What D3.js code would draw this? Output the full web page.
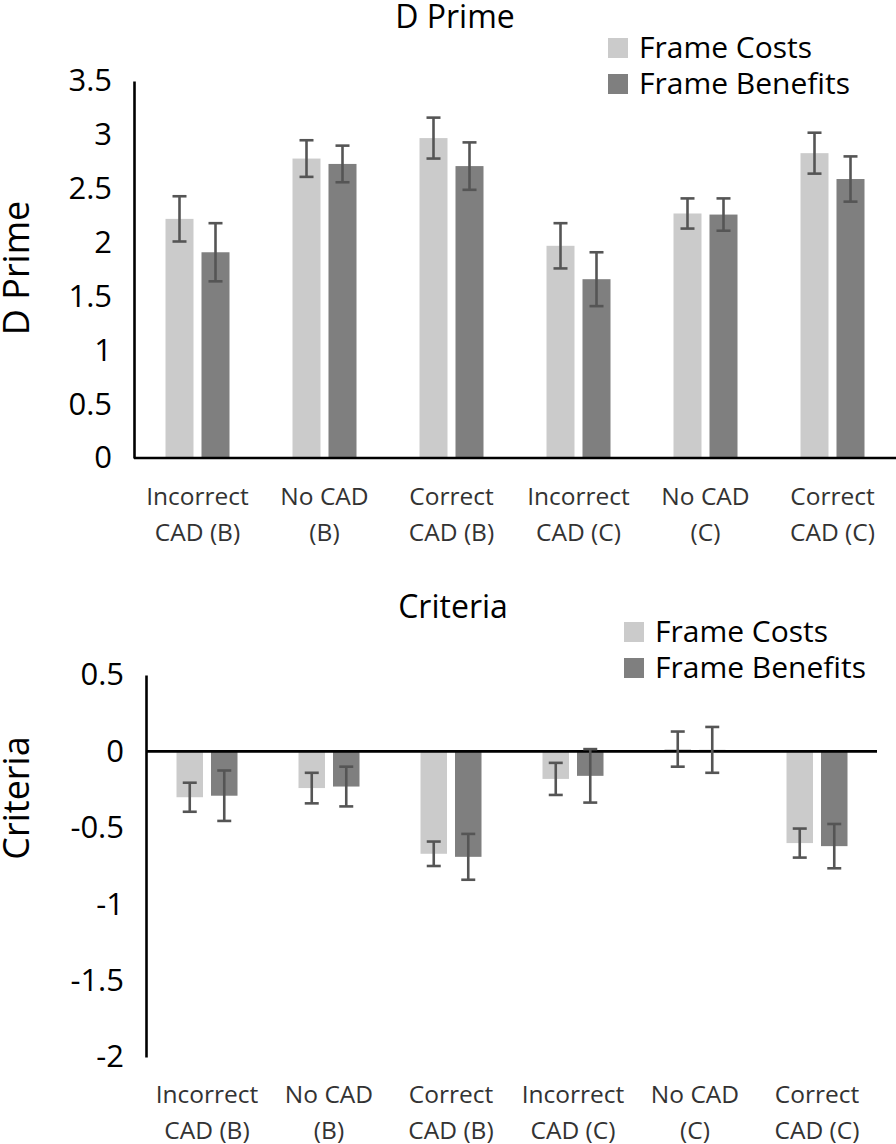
<!DOCTYPE html>
<html>
<head>
<meta charset="utf-8">
<script src="https://cdn.jsdelivr.net/npm/d3@7"></script>
<style>
  html, body { margin: 0; padding: 0; background: #fff; }
  svg { display: block; font-family: "Open Sans", "Noto Sans", sans-serif; }
</style>
</head>
<body>
<svg id="chart" width="896" height="1144"></svg>
<script>
// ---- Data ----
const categories = ["Incorrect CAD (B)", "No CAD (B)", "Correct CAD (B)", "Incorrect CAD (C)", "No CAD (C)", "Correct CAD (C)"];
const categoryLines = [["Incorrect", "CAD (B)"], ["No CAD", "(B)"], ["Correct", "CAD (B)"], ["Incorrect", "CAD (C)"], ["No CAD", "(C)"], ["Correct", "CAD (C)"]];
const seriesNames = ["Frame Costs", "Frame Benefits"];

const dprimeCosts     = [2.22, 2.78, 2.97, 1.97, 2.27, 2.83];
const dprimeBenefits  = [1.91, 2.73, 2.71, 1.66, 2.26, 2.59];
const dprimeCostsErr  = [0.21, 0.17, 0.19, 0.21, 0.14, 0.19];
const dprimeBenefitsErr = [0.27, 0.17, 0.22, 0.25, 0.15, 0.21];
const dprimeTicks = [0, 0.5, 1, 1.5, 2, 2.5, 3, 3.5];

const criteriaCosts     = [-0.30, -0.24, -0.67, -0.18, 0.015, -0.60];
const criteriaBenefits  = [-0.29, -0.23, -0.69, -0.16, 0.01, -0.62];
const criteriaCostsErr  = [0.095, 0.10, 0.08, 0.105, 0.115, 0.095];
const criteriaBenefitsErr = [0.165, 0.13, 0.15, 0.175, 0.15, 0.145];
const criteriaTicks = [0.5, 0, -0.5, -1, -1.5, -2];

const colors = ["#cbcbcb", "#7f7f7f"];

const svg = d3.select("#chart");

function drawPanel(cfg) {
  const g = svg.append("g");
  const x0 = d3.scaleBand().domain(categories).range([cfg.left, cfg.right])
    .paddingInner(cfg.pad).paddingOuter(cfg.pad / 2);
  const x1 = d3.scaleBand().domain(seriesNames).range([0, x0.bandwidth()])
    .paddingInner(cfg.innerPad);
  const y = d3.scaleLinear().domain(cfg.domain).range([cfg.bottom, cfg.top]);

  const rows = [];
  categories.forEach((c, i) => {
    seriesNames.forEach((s, j) => {
      rows.push({ c, s, j, v: cfg.values[j][i], e: cfg.errors[j][i] });
    });
  });

  // bars
  g.selectAll("rect.bar").data(rows).join("rect")
    .attr("class", "bar")
    .attr("x", d => x0(d.c) + x1(d.s))
    .attr("width", x1.bandwidth())
    .attr("y", d => Math.min(y(d.v), y(0)))
    .attr("height", d => Math.abs(y(d.v) - y(0)))
    .attr("fill", d => colors[d.j]);

  // axes
  const yAxis = d3.axisLeft(y).tickValues(cfg.ticks).tickSize(0).tickPadding(cfg.tickPad)
    .tickFormat(d => String(d));
  const ya = g.append("g").attr("transform", `translate(${cfg.left},0)`).call(yAxis);
  ya.select(".domain").attr("stroke", "#000").attr("stroke-width", 2.6);
  ya.selectAll("text").attr("font-size", cfg.tickFont).attr("fill", "#000")
    .attr("font-family", "Open Sans");

  g.append("line")
    .attr("x1", cfg.left).attr("x2", cfg.zeroRight)
    .attr("y1", y(0)).attr("y2", y(0))
    .attr("stroke", "#000").attr("stroke-width", 2.6);

  // error bars
  const eg = g.selectAll("g.err").data(rows).join("g").attr("class", "err")
    .attr("stroke", "#555").attr("stroke-width", 2.6);
  const cx = d => x0(d.c) + x1(d.s) + x1.bandwidth() / 2;
  eg.append("line").attr("x1", cx).attr("x2", cx)
    .attr("y1", d => y(d.v + d.e)).attr("y2", d => y(d.v - d.e));
  eg.append("line").attr("x1", d => cx(d) - 7).attr("x2", d => cx(d) + 7)
    .attr("y1", d => y(d.v + d.e)).attr("y2", d => y(d.v + d.e));
  eg.append("line").attr("x1", d => cx(d) - 7).attr("x2", d => cx(d) + 7)
    .attr("y1", d => y(d.v - d.e)).attr("y2", d => y(d.v - d.e));

  // category labels
  const lab = g.selectAll("text.cat").data(categories).join("text")
    .attr("class", "cat")
    .attr("text-anchor", "middle")
    .attr("font-size", 24.5)
    .attr("fill", "#333")
    .attr("x", c => x0(c) + x0.bandwidth() / 2)
    .attr("y", cfg.labelY);
  lab.each(function(c, i) {
    const t = d3.select(this);
    categoryLines[i].forEach((ln, k) => {
      t.append("tspan").attr("x", x0(c) + x0.bandwidth() / 2)
        .attr("dy", k === 0 ? 0 : 35.5).text(ln);
    });
  });

  // title
  g.append("text").attr("x", cfg.titleX).attr("y", cfg.titleY)
    .attr("text-anchor", "middle").attr("font-size", 32).attr("fill", "#000")
    .text(cfg.title);

  // y label
  g.append("text")
    .attr("transform", `translate(${cfg.ylabX},${cfg.ylabY}) rotate(-90)`)
    .attr("text-anchor", "middle").attr("font-size", 36).attr("fill", "#000")
    .text(cfg.ylabel);

  // legend
  const lg = g.append("g");
  seriesNames.forEach((s, j) => {
    lg.append("rect").attr("x", cfg.legX).attr("y", cfg.legY + j * 36)
      .attr("width", 20).attr("height", 20).attr("fill", colors[j]);
    lg.append("text").attr("x", cfg.legX + 31).attr("y", cfg.legY + j * 36 + 20)
      .attr("font-size", 30).attr("fill", "#000").text(s);
  });
}

drawPanel({
  left: 134, right: 896, zeroRight: 896, pad: 0.496, innerPad: 0.222,
  top: 81, bottom: 458, domain: [0, 3.5], ticks: dprimeTicks,
  values: [dprimeCosts, dprimeBenefits], errors: [dprimeCostsErr, dprimeBenefitsErr],
  tickFont: 31, tickPad: 22, labelY: 505,
  title: "D Prime", titleX: 455, titleY: 28,
  ylabel: "D Prime", ylabX: 29, ylabY: 268,
  legX: 608, legY: 38
});

drawPanel({
  left: 146, right: 878, zeroRight: 877, pad: 0.5, innerPad: 0.232,
  top: 675, bottom: 1057, domain: [-2, 0.5], ticks: criteriaTicks,
  values: [criteriaCosts, criteriaBenefits], errors: [criteriaCostsErr, criteriaBenefitsErr],
  tickFont: 31, tickPad: 22, labelY: 1103,
  title: "Criteria", titleX: 453, titleY: 618,
  ylabel: "Criteria", ylabX: 29, ylabY: 798,
  legX: 624, legY: 622
});
</script>
</body>
</html>
